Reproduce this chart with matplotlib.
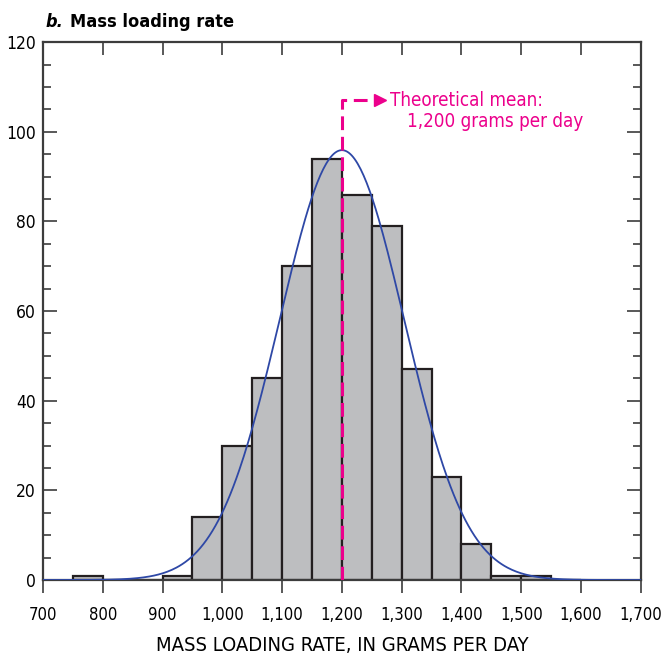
import numpy as np
import matplotlib.pyplot as plt
from matplotlib.ticker import MultipleLocator, FuncFormatter

plt.rcParams['font.family'] = ['DejaVu Sans']
plt.rcParams['font.stretch'] = 'condensed'

# histogram bins (left edges, width 50 g/d) and counts
bin_left = [750, 800, 850, 900, 950, 1000, 1050, 1100, 1150, 1200, 1250,
            1300, 1350, 1400, 1450, 1500, 1550]
counts = [1, 0, 0, 1, 14, 30, 45, 70, 94, 86, 79, 47, 23, 8, 1, 1, 0]
bin_width = 50

# theoretical normal curve parameters
mean_rate = 1200
sd_rate = 104
n_samples = 500

magenta = '#EC008C'
blue = '#2E48A6'
spine_col = '#3C3C3C'

fig = plt.figure(figsize=(6.62, 6.58), dpi=100)
ax = fig.add_axes([0.065, 0.1185, 0.903, 0.8175])

ax.bar(bin_left, counts, width=bin_width, align='edge', color='#BDBEC0',
       edgecolor='#231F20', linewidth=1.6, zorder=2)

xs = np.linspace(700, 1700, 400)
pdf = n_samples * bin_width / (sd_rate * np.sqrt(2 * np.pi)) * \
    np.exp(-0.5 * ((xs - mean_rate) / sd_rate) ** 2)
ax.plot(xs, pdf, color=blue, linewidth=1.3, zorder=3)

# mean marker + annotation
ax.plot([mean_rate, mean_rate, 1255], [0, 107, 107], color=magenta, lw=2.2,
        dashes=(4.5, 2.2), zorder=4, solid_capstyle='butt')
ax.plot([1263], [107], marker='>', color=magenta, markersize=8, zorder=4)
ax.text(1281, 107, 'Theoretical mean:', color=magenta, fontsize=13.5,
        va='center', ha='left')
ax.text(1309, 102.2, '1,200 grams per day', color=magenta, fontsize=13.5,
        va='center', ha='left')

ax.set_xlim(700, 1700)
ax.set_ylim(0, 120)
ax.xaxis.set_major_locator(MultipleLocator(100))
ax.yaxis.set_major_locator(MultipleLocator(20))
ax.yaxis.set_minor_locator(MultipleLocator(5))
ax.xaxis.set_major_formatter(FuncFormatter(lambda v, p: f'{int(v):,}'))

for s in ax.spines.values():
    s.set_color(spine_col)
    s.set_linewidth(1.6)

ax.tick_params(axis='y', which='major', direction='in', left=True, right=True,
               length=10, width=1.2, color=spine_col, labelsize=12.5, pad=5)
ax.tick_params(axis='y', which='minor', direction='in', left=True, right=True,
               length=6, width=1.2, color=spine_col)
ax.tick_params(axis='x', which='major', direction='out', bottom=True,
               length=9, width=1.2, color=spine_col, labelsize=12, pad=10)

# top ticks point inward
top = ax.secondary_xaxis('top')
top.xaxis.set_major_locator(MultipleLocator(100))
top.tick_params(direction='in', length=9, width=1.2, color=spine_col,
                labeltop=False)
top.spines['top'].set_visible(False)

ax.set_xlabel('MASS LOADING RATE, IN GRAMS PER DAY', fontsize=14.5, labelpad=8)

fig.text(0.068, 0.959, 'b.', fontsize=13, fontweight='bold', style='italic',
         va='baseline')
fig.text(0.106, 0.959, 'Mass loading rate', fontsize=13, fontweight='bold',
         va='baseline')

fig.savefig('out.png', dpi=100)
